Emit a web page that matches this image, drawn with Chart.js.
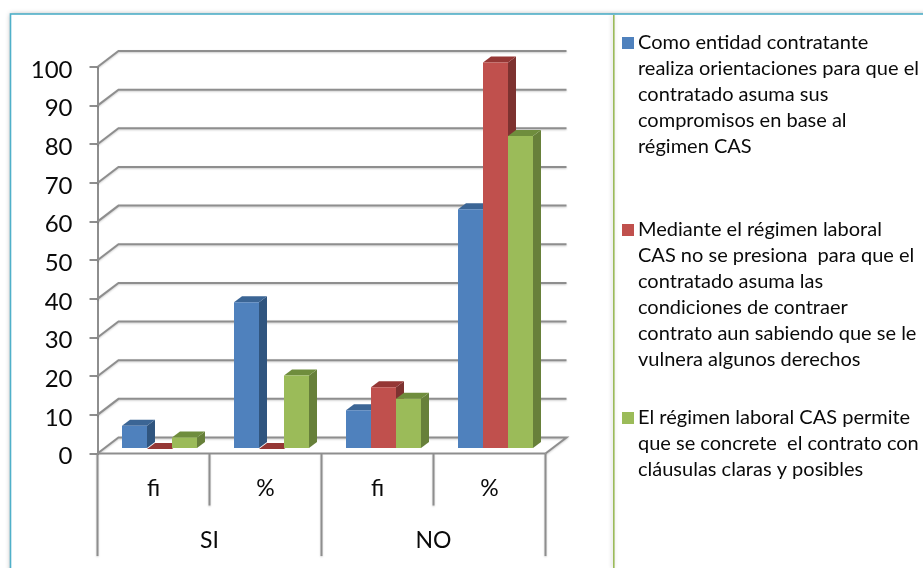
<!DOCTYPE html>
<html lang="es">
<head>
<meta charset="utf-8">
<title>Régimen laboral CAS</title>
<script src="https://cdn.jsdelivr.net/npm/chart.js@4"></script>
<style>
  html, body { margin: 0; padding: 0; background: #fff; }
  canvas { display: block; }
</style>
</head>
<body>
<canvas id="chart" width="923" height="568"></canvas>
<script>
const measures = ['fi', '%', 'fi', '%'];
const groups = ['SI', 'NO'];
const orientaciones = [6, 38, 10, 62];
const presion = [0, 0, 16, 100];
const clausulas = [3, 19, 13, 81];

const legendOrientaciones = ['Como entidad contratante', 'realiza orientaciones para que el', 'contratado asuma sus', 'compromisos en base al', 'régimen CAS'];
const legendPresion = ['Mediante el régimen laboral', 'CAS no se presiona  para que el', 'contratado asuma las', 'condiciones de contraer', 'contrato aun sabiendo que se le', 'vulnera algunos derechos'];
const legendClausulas = ['El régimen laboral CAS permite', 'que se concrete  el contrato con', 'cláusulas claras y posibles'];

const FONT = 'Lato, Carlito, sans-serif';
const GRID = '#8e8e8e';
const INK = '#0a0a0a';
const WALL = { dx: 21, dy: -16 };     // offset from the floor's front edge to the back wall
const SHIFT = { dx: 6, dy: -4.5 };    // bars stand in the middle of the floor
const DEPTH = { dx: 8, dy: -6 };      // thickness of each column

const palette = [
  { front: '#4f81bd', top: '#3b6595', side: '#30557f' },
  { front: '#c0504d', top: '#953735', side: '#7d3230' },
  { front: '#9bbb59', top: '#6f8d3d', side: '#67803a' }
];

// Page frame: outer panel and the divider beside the legend
const framePlugin = {
  id: 'frame',
  beforeDraw(chart) {
    const { ctx, width, height } = chart;
    ctx.save();
    ctx.fillStyle = '#fff';
    ctx.fillRect(0, 0, width, height);
    ctx.shadowColor = 'rgba(0,0,0,0.35)';
    ctx.shadowBlur = 5;
    ctx.shadowOffsetX = -1;
    ctx.fillRect(10.5, 14, width + 20, height + 20);
    ctx.shadowColor = 'transparent';
    ctx.strokeStyle = '#4fb0c9';
    ctx.lineWidth = 1.6;
    ctx.strokeRect(10.5, 14, width + 20, height + 20);
    ctx.shadowColor = 'rgba(0,0,0,0.22)';
    ctx.shadowBlur = 4;
    ctx.shadowOffsetX = -1;
    ctx.strokeStyle = '#9bbb59';
    ctx.lineWidth = 1.6;
    ctx.beginPath();
    ctx.moveTo(613.8, 15);
    ctx.lineTo(613.8, height);
    ctx.stroke();
    ctx.restore();
  }
};

// Back wall, floor and the two-level category dividers
const wallsPlugin = {
  id: 'walls',
  beforeDatasetsDraw(chart) {
    const { ctx, scales: { x, y }, chartArea } = chart;
    ctx.save();
    ctx.strokeStyle = GRID;
    ctx.lineWidth = 2;
    ctx.shadowColor = 'rgba(0,0,0,0.2)';
    ctx.shadowBlur = 2;
    ctx.shadowOffsetY = 1;
    y.ticks.forEach(t => {
      const py = y.getPixelForValue(t.value);
      ctx.beginPath();
      ctx.moveTo(chartArea.left, py);
      ctx.lineTo(chartArea.left + WALL.dx, py + WALL.dy);
      ctx.lineTo(chartArea.right + WALL.dx, py + WALL.dy);
      if (t.value === 0) ctx.lineTo(chartArea.right, py);
      ctx.stroke();
    });
    // dividers below the axis: short ones between measures, long ones between groups
    const step = x.getPixelForValue(1) - x.getPixelForValue(0);
    const low = chart.scales.xGroup.bottom;
    for (let i = 0; i <= measures.length; i++) {
      const px = x.getPixelForValue(0) - step / 2 + i * step;
      ctx.beginPath();
      ctx.moveTo(px, chartArea.bottom);
      ctx.lineTo(px, i % 2 ? x.bottom : low);
      ctx.stroke();
    }
    ctx.restore();
  },
  afterDatasetsDraw(chart) {
    // front edge of the floor stays above the column feet
    const { ctx, chartArea } = chart;
    ctx.save();
    ctx.strokeStyle = GRID;
    ctx.lineWidth = 2;
    ctx.beginPath();
    ctx.moveTo(chartArea.left, chartArea.bottom);
    ctx.lineTo(chartArea.right, chartArea.bottom);
    ctx.stroke();
    ctx.restore();
  }
};

// Top and side faces, left to right; the front face is the library's own bar
const depthPlugin = {
  id: 'depth',
  beforeDatasetsDraw(chart) {
    const { ctx } = chart;
    ctx.save();
    ctx.translate(SHIFT.dx, SHIFT.dy);
    chart.getSortedVisibleDatasetMetas().forEach(meta => {
      const colors = palette[meta.index];
      meta.data.forEach(bar => {
        const { x, y, base, width } = bar.getProps(['x', 'y', 'base', 'width'], true);
        const l = x - width / 2, r = x + width / 2;
        ctx.fillStyle = colors.side;
        ctx.beginPath();
        ctx.moveTo(r, base);
        ctx.lineTo(r + DEPTH.dx, base + DEPTH.dy);
        ctx.lineTo(r + DEPTH.dx, y + DEPTH.dy);
        ctx.lineTo(r, y);
        ctx.closePath();
        ctx.fill();
        ctx.fillStyle = colors.top;
        ctx.beginPath();
        ctx.moveTo(l, y);
        ctx.lineTo(l + DEPTH.dx, y + DEPTH.dy);
        ctx.lineTo(r + DEPTH.dx, y + DEPTH.dy);
        ctx.lineTo(r, y);
        ctx.closePath();
        ctx.fill();
      });
    });
    ctx.restore();
  },
  beforeDatasetDraw(chart) {
    chart.ctx.save();
    chart.ctx.translate(SHIFT.dx, SHIFT.dy);
  },
  afterDatasetDraw(chart) {
    chart.ctx.restore();
  }
};

// Legend column with wrapped entries
const legendPlugin = {
  id: 'wrappedLegend',
  afterDraw(chart) {
    const { ctx } = chart;
    const entries = [
      { lines: legendOrientaciones, top: 43 },
      { lines: legendPresion, top: 230 },
      { lines: legendClausulas, top: 418 }
    ];
    ctx.save();
    ctx.font = '20px ' + FONT;
    ctx.textBaseline = 'middle';
    ctx.textAlign = 'left';
    entries.forEach((entry, i) => {
      ctx.fillStyle = palette[i].front;
      ctx.fillRect(622, entry.top - 6, 12, 12);
      ctx.fillStyle = INK;
      entry.lines.forEach((line, k) => ctx.fillText(line, 638, entry.top - 0.5 + k * 26));
    });
    ctx.restore();
  }
};

const dataset = (label, data) => ({
  label,
  data,
  clip: false,
  barPercentage: 1,
  categoryPercentage: 75 / 112
});

const fixedHeight = h => axis => { axis.height = h; };

// Numerals sit slightly below their tick marks
const lowerLabels = axis => {
  if (Object.prototype.hasOwnProperty.call(axis, 'drawLabels')) return;
  const drawLabels = axis.drawLabels;
  axis.drawLabels = function (area) {
    this.ctx.save();
    this.ctx.translate(0, 3);
    drawLabels.call(this, area);
    this.ctx.restore();
  };
};

const seriesList = [
  dataset(legendOrientaciones.join(' '), orientaciones),
  dataset(legendPresion.join(' '), presion),
  dataset(legendClausulas.join(' '), clausulas)
];
seriesList.forEach((d, i) => { d.backgroundColor = palette[i].front; });

new Chart(document.getElementById('chart'), {
  type: 'bar',
  data: { labels: measures, datasets: seriesList },
  options: {
    responsive: false,
    animation: false,
    layout: { padding: { left: 0, top: 67, right: 377.5, bottom: 12 } },
    plugins: { legend: { display: false }, title: { display: false }, tooltip: { enabled: false } },
    scales: {
      x: {
        position: 'bottom',
        grid: { display: false },
        border: { display: false },
        ticks: { color: INK, font: { family: FONT, size: 23 }, padding: 13, maxRotation: 0, autoSkip: false },
        afterFit: fixedHeight(52)
      },
      xGroup: {
        type: 'category',
        labels: groups,
        position: 'bottom',
        grid: { display: false },
        border: { display: false },
        ticks: { color: INK, font: { family: FONT, size: 23 }, padding: 13.5, maxRotation: 0, autoSkip: false },
        afterFit: fixedHeight(50.5)
      },
      y: {
        min: 0,
        max: 100,
        position: 'left',
        afterFit: axis => { axis.width = 97.5; },
        afterUpdate: lowerLabels,
        grid: { drawOnChartArea: false, drawTicks: true, tickLength: 8, color: GRID, lineWidth: 2 },
        border: { display: true, color: GRID, width: 2 },
        ticks: { stepSize: 10, color: INK, font: { family: FONT, size: 24 }, padding: 17 }
      }
    }
  },
  plugins: [framePlugin, wallsPlugin, depthPlugin, legendPlugin]
});
</script>
</body>
</html>
